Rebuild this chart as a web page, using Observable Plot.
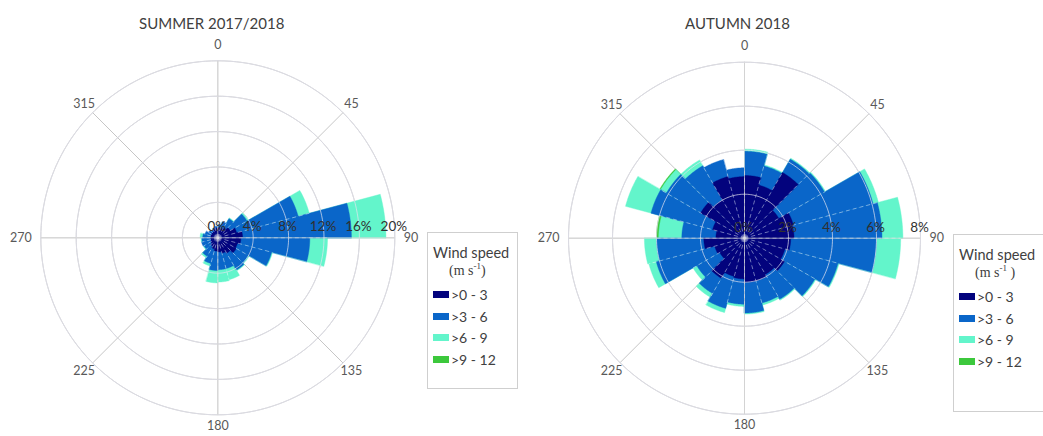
<!DOCTYPE html>
<html><head><meta charset="utf-8">
<script src="https://cdn.jsdelivr.net/npm/d3@7"></script>
<script src="https://cdn.jsdelivr.net/npm/@observablehq/plot@0.6"></script>
<style>
html,body{margin:0;padding:0;background:#fff;}
#root{position:relative;width:1043px;height:436px;overflow:hidden;font-family:Lato,"Open Sans",sans-serif;}
.panel{position:absolute;top:0;}
.title{position:absolute;font-size:15px;color:#404040;transform:translate(-50%,-50%);white-space:nowrap;}
.legend{position:absolute;border:1px solid #cfcfcf;background:#fff;box-sizing:border-box;color:#404040;}
.legend .h1{position:absolute;font-size:14.5px;white-space:nowrap;}
.legend .h2{position:absolute;font-family:"Liberation Serif","DejaVu Serif",serif;font-size:14px;white-space:nowrap;}
.legend .h2 sup{font-size:9px;}
.legend .row{position:absolute;font-size:14px;white-space:nowrap;display:flex;align-items:center;}
.legend .sw{display:inline-block;width:16px;height:7px;margin-right:2px;}
</style></head><body>
<div id="root"></div>
<script>
// ---- data ----
const sectors = [0,15,30,45,60,75,90,105,120,135,150,165,180,195,210,225,240,255,270,285,300,315,330,345];
const speedClasses = [">0 - 3", ">3 - 6", ">6 - 9", ">9 - 12"];
const classColors = ["#03037d", "#0a66c9", "#63f5cb", "#3cc83c"];
const directionTicks = [0,45,90,135,180,225,270,315];

// summer 2017/2018 frequencies (%) per sector, per speed class
const summer03  = [1.2,1.1,1.3,1.6,2.2,2.8,2.6,2.3,2.4,2.0,1.8,1.6,1.5,1.3,1.1,0.9,0.8,0.8,0.8,0.8,0.8,0.8,1.0,1.1];
const summer36  = [0.3,0.8,1.2,2.2,7.2,12.3,7.8,4.0,1.6,2.2,1.8,2.0,2.2,1.7,1.3,0.9,1.1,1.0,0.9,0.7,0.4,0.2,0.2,0.2];
const summer69  = [0,0,0.1,0.2,1.3,3.9,2.0,0.1,0.1,0.1,1.3,1.4,1.4,0.3,0.2,0.1,0,0.1,0.3,0,0,0,0,0];
const summer912 = [0,0,0,0,0,0,0,0,0,0,0,0,0,0,0,0,0,0,0,0,0,0,0,0];
const summerTicks = [0,4,8,12,16,20];

// autumn 2018
const autumn03  = [2.85,2.5,3.45,1.8,2.3,2.25,2.1,1.9,2.1,1.9,2.0,2.0,1.85,1.8,2.1,1.3,1.4,1.85,1.3,1.5,2.3,2.0,2.9,2.8];
const autumn36  = [1.1,0.9,0.7,2.4,3.75,4.0,3.9,2.5,1.6,1.3,1.05,1.4,1.15,1.5,0.8,1.2,2.75,2.15,1.55,2.9,1.8,1.8,0.8,0.4];
const autumn69  = [0.1,0.05,0.05,0.05,0.25,0.95,1.1,0.05,0.05,0.05,0.1,0.05,0.1,0.2,0.2,0.2,0.35,0.55,1.05,1.2,0.3,0.3,0,0];
const autumn912 = [0,0,0,0,0,0,0,0,0,0,0,0,0,0,0,0,0,0,0.1,0,0.05,0,0,0];
const autumnTicks = [0,2,4,6,8];

// ---- drawing ----
const rad = d => d * Math.PI / 180;
const px = (r, a) => r * Math.sin(rad(a));
const py = (r, a) => r * Math.cos(rad(a));
const SW = 15;

function rose({values, ticks, k, cx, cy, width, height}) {
  const outer = ticks[ticks.length - 1];
  const cum = sectors.map((s, i) => { let acc = 0; return values.map(v => (acc += v[i])); });
  const total = cum.map(c => c[c.length - 1]);
  const gridColor = "#c6c6c6";
  const ringPts = [];
  ticks.filter(t => t > 0).forEach(t => {
    for (let a = 0; a <= 360; a += 2) ringPts.push({t, x: px(t, a), y: py(t, a)});
  });
  const marks = [];
  marks.push(Plot.line(ringPts, {x: "x", y: "y", z: "t", stroke: gridColor, strokeWidth: 1}));
  marks.push(Plot.link(directionTicks, {x1: () => 0, y1: () => 0, x2: d => px(outer, d), y2: d => py(outer, d), stroke: gridColor, strokeWidth: 1}));
  for (let j = values.length - 1; j >= 0; --j) {
    const pts = [];
    sectors.forEach((s, i) => {
      const r = cum[i][j];
      if (r <= 0) return;
      if (j > 0 && r <= cum[i][j - 1]) return;
      pts.push({id: i, x: 0, y: 0});
      for (let a = s; a <= s + SW + 1e-9; a += 0.5) pts.push({id: i, x: px(r, a), y: py(r, a)});
    });
    marks.push(Plot.line(pts, {x: "x", y: "y", z: "id", fill: classColors[j], stroke: classColors[j], strokeWidth: 0.4, curve: "linear-closed"}));
  }
  // sector separators
  marks.push(Plot.link(sectors, {
    x1: () => 0, y1: () => 0,
    x2: (s, i) => px(Math.min(total[i], total[(i + 23) % 24]), s),
    y2: (s, i) => py(Math.min(total[i], total[(i + 23) % 24]), s),
    stroke: "#ffffff", strokeOpacity: 0.55, strokeWidth: 0.8, strokeDasharray: "4,3"
  }));
  // grid over data (faint)
  marks.push(Plot.line(ringPts, {x: "x", y: "y", z: "t", stroke: "#e4e4f0", strokeOpacity: 0.7, strokeWidth: 1}));
  marks.push(Plot.link([0, 90, 180, 270], {x1: () => 0, y1: () => 0, x2: d => px(outer, d), y2: d => py(outer, d), stroke: "#d8d8d8", strokeOpacity: 0.7, strokeWidth: 1}));
  // direction labels
  const lab = (d, off) => (outer * k + off) / k;
  const font = {fontFamily: "Lato, 'Open Sans', sans-serif", fontSize: 12.5, fill: "#595959"};
  marks.push(Plot.text([0], {x: d => px(lab(d, 16), d), y: d => py(lab(d, 16), d), text: d => String(d), ...font}));
  marks.push(Plot.text([180], {x: d => px(lab(d, 11), d), y: d => py(lab(d, 11), d), text: d => String(d), ...font}));
  marks.push(Plot.text([90], {x: d => px(lab(d, 9), d), y: () => 0, text: d => String(d), textAnchor: "start", ...font}));
  marks.push(Plot.text([270], {x: d => px(lab(d, 9), d), y: () => 0, text: d => String(d), textAnchor: "end", ...font}));
  marks.push(Plot.text([45, 135, 225, 315], {x: d => px(lab(d, 12), d), y: d => py(lab(d, 12), d), text: d => String(d), ...font}));
  // radial tick labels
  marks.push(Plot.text(ticks, {x: t => t, y: () => 0, dy: -11, dx: -1, text: t => `${t}%`, fontFamily: "Lato, 'Open Sans', sans-serif", fontSize: 13.5, fill: "#303030"}));
  return Plot.plot({
    width, height, margin: 0,
    x: {domain: [-cx / k, (width - cx) / k], axis: null},
    y: {domain: [-(height - cy) / k, cy / k], axis: null},
    style: {background: "transparent", overflow: "visible"},
    marks
  });
}

const root = document.getElementById("root");
function panel(left, node) {
  const d = document.createElement("div");
  d.className = "panel"; d.style.left = left + "px";
  d.appendChild(node); root.appendChild(d);
}
panel(0, rose({values: [summer03, summer36, summer69, summer912], ticks: summerTicks, k: 177 / 20, cx: 217.3, cy: 237.3, width: 520, height: 436}));
panel(520, rose({values: [autumn03, autumn36, autumn69, autumn912], ticks: autumnTicks, k: 176 / 8, cx: 224, cy: 237.7, width: 523, height: 436}));

function title(text, x, y) {
  const t = document.createElement("div");
  t.className = "title"; t.textContent = text;
  t.style.left = x + "px"; t.style.top = y + "px";
  root.appendChild(t);
}
title("SUMMER 2017/2018", 211.7, 22.7);
title("AUTUMN 2018", 737.5, 22.7);

function legend(left, top, w, h, unitHTML) {
  const L = document.createElement("div");
  L.className = "legend";
  Object.assign(L.style, {left: left + "px", top: top + "px", width: w + "px", height: h + "px"});
  const h1 = document.createElement("div"); h1.className = "h1"; h1.textContent = "Wind speed";
  Object.assign(h1.style, {left: "5px", top: "11px"});
  const h2 = document.createElement("div"); h2.className = "h2"; h2.innerHTML = unitHTML;
  Object.assign(h2.style, {left: "21px", top: "28px"});
  L.append(h1, h2);
  speedClasses.forEach((c, i) => {
    const r = document.createElement("div"); r.className = "row";
    Object.assign(r.style, {left: "5px", top: (53 + i * 21.5) + "px"});
    const s = document.createElement("span"); s.className = "sw"; s.style.background = classColors[i];
    const tx = document.createElement("span"); tx.textContent = c;
    r.append(s, tx); L.appendChild(r);
  });
  root.appendChild(L);
}
legend(427, 232, 91, 157, "(m s<sup>-1</sup>)");
legend(953, 234, 100, 178, "(m s<sup>-1</sup> )");
</script>
</body></html>
